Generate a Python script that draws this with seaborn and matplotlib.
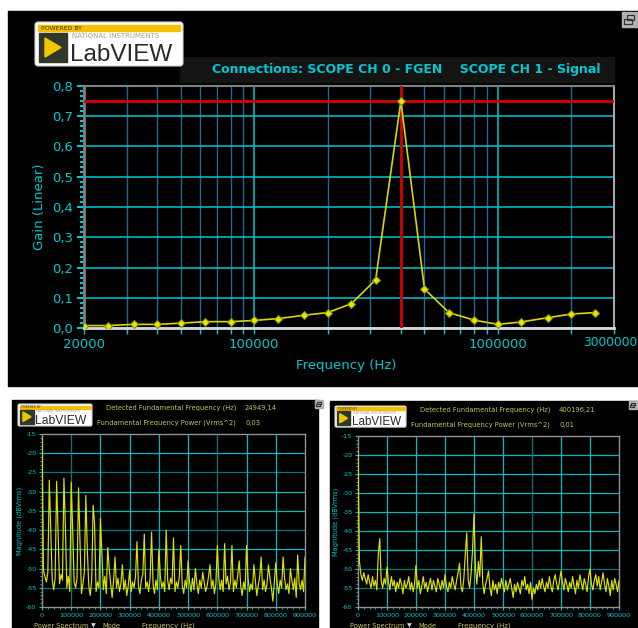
import matplotlib
matplotlib.use("Agg")
import matplotlib.pyplot as plt
import matplotlib.ticker as mticker
from matplotlib.patches import Rectangle, FancyBboxPatch, Polygon
from matplotlib import font_manager
import seaborn as sns

sns.set_style("dark")
plt.rcParams['font.family'] = ['DejaVu Sans']
plt.rcParams['axes.unicode_minus'] = False

# ---- gain sweep (top chart) ----
sweep_freq = [20000, 25000, 32000, 40000, 50000, 63000, 80000, 100000, 125000, 160000,
              200000, 250000, 315000, 400000, 500000, 630000, 800000, 1000000, 1250000,
              1600000, 2000000, 2500000]
sweep_gain = [0.008, 0.008, 0.012, 0.012, 0.016, 0.021, 0.021, 0.025, 0.031, 0.042,
              0.051, 0.080, 0.159, 0.750, 0.129, 0.051, 0.026, 0.012, 0.020, 0.034,
              0.046, 0.051]
cursor_freq = 400000
cursor_gain = 0.75
top_xticks = [20000, 100000, 1000000, 3000000]

# ---- power spectra (bottom charts) ----
spec_freq = list(range(0, 900001, 5000))
spec_left = [
    -15.5, -50.5, -52.0, -53.5, -51.0, -27.0, -40.0, -53.0, -55.5, -52.5,
    -27.3, -40.5, -54.0, -51.5, -53.0, -26.5, -39.0, -55.0, -52.0, -56.0,
    -27.5, -40.0, -53.5, -55.0, -52.5, -29.0, -43.0, -56.5, -54.0, -51.0,
    -31.0, -45.0, -54.5, -57.0, -53.0, -33.5, -38.5, -56.0, -53.5, -55.0,
    -37.0, -46.0, -55.5, -52.0, -56.5, -44.5, -50.0, -54.0, -57.5, -53.0,
    -47.0, -55.0, -52.5, -56.0, -54.0, -49.0, -55.5, -53.0, -57.0, -54.5,
    -50.5, -56.0, -53.5, -55.0, -52.0, -43.0, -54.5, -56.5, -53.0, -51.5,
    -41.0, -55.0, -53.5, -56.0, -52.5, -40.5, -54.0, -56.5, -53.0, -55.5,
    -45.0, -52.0, -55.0, -53.5, -56.0, -40.0, -53.0, -55.5, -52.5, -54.0,
    -42.0, -56.0, -53.5, -55.0, -52.0, -44.0, -54.5, -56.5, -53.0, -55.0,
    -48.0, -53.5, -56.0, -52.5, -55.5, -50.0, -54.0, -56.5, -53.0, -55.0,
    -51.0, -53.5, -56.0, -54.5, -52.0, -49.0, -55.0, -53.0, -56.5, -54.0,
    -44.0, -52.5, -55.5, -53.0, -56.0, -43.5, -54.0, -52.0, -55.5, -53.5,
    -44.0, -56.0, -53.0, -55.0, -51.5, -48.0, -54.5, -57.0, -53.5, -55.5,
    -44.0, -52.5, -56.0, -54.0, -55.5, -49.0, -53.0, -57.0, -54.5, -52.0,
    -47.0, -55.5, -53.0, -56.0, -54.0, -49.0, -52.5, -55.0, -58.5, -53.5,
    -48.5, -54.0, -56.5, -53.0, -55.0, -47.0, -52.5, -55.5, -54.0, -56.5,
    -50.0, -53.0, -55.5, -52.5, -57.5, -46.5, -54.0, -55.5, -53.0, -56.0,
    -47.0]
spec_right = [
    -19.0, -48.0, -51.5, -53.0, -51.0, -52.5, -54.0, -51.5, -53.5, -55.0,
    -52.0, -54.5, -53.0, -55.5, -46.0, -42.0, -53.0, -55.0, -52.5, -54.0,
    -49.5, -53.5, -55.5, -52.0, -54.5, -53.0, -56.0, -53.5, -55.0, -52.5,
    -54.0, -56.5, -53.0, -55.0, -54.0, -52.0, -55.5, -53.5, -56.0, -54.0,
    -49.0, -55.0, -53.0, -56.5, -54.5, -52.0, -55.0, -53.5, -56.0, -54.0,
    -52.5, -55.5, -53.0, -54.5, -56.0, -52.5, -54.0, -55.5, -53.0, -55.0,
    -51.5, -54.5, -56.0, -53.5, -55.0, -52.0, -54.0, -55.5, -53.0, -51.0,
    -48.5, -54.5, -56.0, -52.5, -46.0, -40.5, -53.0, -55.0, -51.0, -45.0,
    -35.5, -50.0, -54.0, -48.0, -52.0, -41.5, -53.5, -56.5, -54.0, -52.5,
    -50.5, -55.0, -57.0, -53.0, -55.5, -54.0, -56.5, -53.5, -55.0, -52.5,
    -54.5, -56.0, -53.0, -55.5, -54.0, -52.5, -55.0, -57.5, -54.0, -56.0,
    -53.5, -55.0, -56.5, -53.0, -54.5, -52.0, -55.5, -54.0, -56.5, -53.5,
    -58.0, -55.0, -56.5, -54.0, -55.5, -53.0, -55.0, -52.5, -54.5, -56.0,
    -53.5, -55.0, -52.0, -54.5, -56.0, -53.0, -51.5, -54.0, -55.5, -53.0,
    -50.5, -53.5, -55.5, -52.5, -54.0, -56.0, -53.5, -55.0, -52.0, -54.5,
    -56.5, -53.0, -55.0, -51.5, -53.5, -55.5, -52.5, -54.0, -56.0, -52.0,
    -50.0, -54.0, -55.5, -53.0, -51.5, -54.5, -52.0, -55.5, -53.5, -51.0,
    -54.0, -56.0, -52.5, -54.5, -57.0, -53.0, -55.5, -52.5, -54.0, -56.0,
    -53.0]
left_fund, left_power = "24949,14", "0,03"
right_fund, right_power = "400196,21", "0,01"

CYAN = '#00c8d0'
GRID_DARK = '#1d6a90'
KHAKI = '#c8c25a'
YELLOW = '#e0e000'

W, H = 638, 628
fig = plt.figure(figsize=(W / 100, H / 100), dpi=100, facecolor='white')

# full-figure overlay in pixel coords for panels, logos and free text
bg = fig.add_axes([0, 0, 1, 1])
bg.set_xlim(0, W)
bg.set_ylim(H, 0)
bg.axis('off')

bg.add_patch(Rectangle((8, 11), 630, 375, color='black'))
bg.add_patch(Rectangle((12, 400), 306, 228, color='black'))
bg.add_patch(Rectangle((330, 401), 308, 227, color='black'))
bg.add_patch(Rectangle((180, 57), 434, 25, color='#141414'))


def restore_icon(x, y, s):
    bg.add_patch(Rectangle((x, y), s, s, color='#b0b0b0'))
    bg.add_patch(Rectangle((x + s * 0.3, y + s * 0.2), s * 0.5, s * 0.35, fill=False, ec='#303030', lw=0.8))
    bg.add_patch(Rectangle((x + s * 0.15, y + s * 0.45), s * 0.5, s * 0.35, fill=False, ec='#303030', lw=0.8))


restore_icon(622, 12, 15)
restore_icon(315, 400, 8)
restore_icon(629, 401, 8)


def logo(x, y, s):
    w, h = 148 * s, 44 * s
    bg.add_patch(FancyBboxPatch((x, y), w, h, boxstyle=f"round,pad=0,rounding_size={3 * s}",
                                fc='white', ec='#d0d0d0', lw=0.8))
    bg.add_patch(Rectangle((x + 3 * s, y + 3 * s), w - 6 * s, 6 * s, color='#f5c000'))
    bg.text(x + 6 * s, y + 6 * s, "POWERED BY", fontsize=2.2 * s * 2, color='#403000', va='center')
    bg.add_patch(Rectangle((x + 4 * s, y + 11 * s), 28 * s, 29 * s, color='#303828'))
    bg.add_patch(Polygon([(x + 10 * s, y + 16 * s), (x + 10 * s, y + 35 * s), (x + 26 * s, y + 25.5 * s)],
                         closed=True, color='#f0c800'))
    bg.text(x + 37 * s, y + 14 * s, "NATIONAL INSTRUMENTS", fontsize=2.5 * s * 2, color='#a0a0a0', va='center')
    bg.text(x + 35 * s, y + 39 * s, "LabVIEW", fontsize=17.5 * s, color='#2a2a2a',
            family='Liberation Sans', va='baseline')


logo(35, 22, 1.0)
logo(18, 404, 0.5)
logo(335, 406, 0.48)

# ---------- top chart ----------
names = {f.name for f in font_manager.fontManager.ttflist}
if 'Liberation Sans Narrow' in names:
    title_family, title_size = 'Liberation Sans Narrow', 12
else:
    title_family, title_size = 'DejaVu Sans', 9
bg.text(406, 70, "Connections: SCOPE CH 0 - FGEN    SCOPE CH 1 - Signal", color=CYAN,
        fontsize=title_size, fontweight='bold', family=title_family, ha='center', va='center')

ax = fig.add_axes([84 / W, 1 - 328 / H, 530 / W, 242 / H])
ax.set_facecolor('black')
ax.set_xscale('log')
ax.axvline(cursor_freq, color='#d40000', lw=2, zorder=3)
ax.axhline(cursor_gain, color='#d40000', lw=2, zorder=3)
sns.lineplot(x=sweep_freq, y=sweep_gain, ax=ax, color='#d8d800', lw=1.2, marker='D',
             markersize=4, markeredgecolor='#8a8a00', markerfacecolor='#e6e600', zorder=4)
ax.set_xlim(20000, 3000000)
ax.set_ylim(0, 0.8)
ax.set_xticks(top_xticks)
# the last label (3000000) runs to the panel's right edge; it is drawn separately below
ax.xaxis.set_major_formatter(mticker.FuncFormatter(
    lambda v, p: "" if v >= top_xticks[-1] else f"{int(v)}"))
ax.xaxis.set_minor_locator(mticker.FixedLocator(
    [30000, 40000, 50000, 60000, 70000, 80000, 90000,
     200000, 300000, 400000, 500000, 600000, 700000, 800000, 900000, 2000000]))
ax.xaxis.set_minor_formatter(mticker.NullFormatter())
ax.yaxis.set_major_locator(mticker.MultipleLocator(0.1))
ax.yaxis.set_minor_locator(mticker.AutoMinorLocator(6))
ax.yaxis.set_major_formatter(mticker.FuncFormatter(lambda v, p: f"{v:.1f}".replace('.', ',')))
ax.grid(False)
ax.grid(which='major', color=CYAN, lw=1.1)
ax.grid(which='minor', axis='x', color=GRID_DARK, lw=1.0)
ax.set_axisbelow(True)
ax.tick_params(axis='both', which='both', direction='out', color=CYAN, labelcolor=CYAN,
               labelsize=9.5, left=True, bottom=True, pad=3)
ax.tick_params(axis='y', which='major', length=5, width=1.5)
ax.tick_params(axis='y', which='minor', length=3, width=1.5)
ax.tick_params(axis='x', which='both', length=4, width=1)
ax.set_xlabel("")
ax.set_ylabel("")
for side, c, lw in [('left', '#808080', 2), ('bottom', '#d8d8d8', 2), ('top', '#808080', 1.5), ('right', '#a8a8a8', 1.5)]:
    ax.spines[side].set_color(c)
    ax.spines[side].set_linewidth(lw)
bg.text(637, 343, f"{top_xticks[-1]}", color=CYAN, fontsize=8.8, ha='right', va='center')
bg.text(40, 207, "Gain (Linear)", color=CYAN, fontsize=9.5, rotation=90, ha='center', va='center')
bg.text(346, 366, "Frequency (Hz)", color=CYAN, fontsize=9.5, ha='center', va='center')


# ---------- bottom spectra ----------
def spectrum(x0, y0, x1, y1, vals, dark_h, dark_v, fund, power, text_right):
    a = fig.add_axes([x0 / W, 1 - y1 / H, (x1 - x0) / W, (y1 - y0) / H])
    a.set_facecolor('black')
    a.grid(False)
    for yv in range(-55, -15, 5):
        a.axhline(yv, color='#007878' if yv in dark_h else '#00b8c0', lw=0.9, zorder=1)
    for xv in range(100000, 900000, 100000):
        a.axvline(xv, color='#007878' if xv in dark_v else '#00b8c0', lw=0.9, zorder=1)
    sns.lineplot(x=spec_freq, y=vals, ax=a, color=YELLOW, lw=0.85, zorder=3)
    a.set_xlim(0, 900000)
    a.set_ylim(-60, -15)
    a.set_xticks(range(0, 900001, 100000))
    a.set_yticks(range(-60, -14, 5))
    a.xaxis.set_minor_locator(mticker.MultipleLocator(20000))
    a.yaxis.set_minor_locator(mticker.MultipleLocator(1))
    a.tick_params(axis='both', which='both', direction='out', color=CYAN, labelcolor=CYAN,
                  labelsize=4.6, left=True, bottom=True, pad=1.5)
    a.tick_params(which='major', length=2.5, width=0.8)
    a.tick_params(which='minor', length=1.2, width=0.6)
    a.set_xlabel("")
    a.set_ylabel("")
    for s in a.spines.values():
        s.set_color('#909090')
        s.set_linewidth(1)
    bg.text(x0 - 22, (y0 + y1) / 2, "Magnitude (dBVrms)", color=CYAN, fontsize=4.8,
            rotation=90, ha='center', va='center')
    bg.text(x0 + 126, 626, "Frequency (Hz)", color=KHAKI, fontsize=5, ha='center', va='center')
    bg.text(x0 - 8, 626, "Power Spectrum", color=KHAKI, fontsize=4.8, ha='left', va='center')
    bg.text(x0 + 51, 626, "\u25bc", color='#d0d0d0', fontsize=4.5, ha='center', va='center')
    bg.text(x0 + 60, 626, "Mode", color=KHAKI, fontsize=4.8, ha='left', va='center')
    bg.text(text_right, y0 - 26, "Detected Fundamental Frequency (Hz)", color=KHAKI,
            fontsize=4.9, ha='right', va='center')
    bg.text(text_right + 9, y0 - 26, fund, color=KHAKI, fontsize=4.9, ha='left', va='center')
    bg.text(text_right, y0 - 11, "Fundamental Frequency Power (Vrms^2)", color=KHAKI,
            fontsize=4.9, ha='right', va='center')
    bg.text(text_right + 9, y0 - 11, power, color=KHAKI, fontsize=4.9, ha='left', va='center')


spectrum(42, 434, 305, 607, spec_left, [-25, -40, -50, -55], [100000, 600000],
         left_fund, left_power, 236)
spectrum(358, 436, 619, 607, spec_right, [-50, -55], [600000],
         right_fund, right_power, 550)

fig.savefig("out.png", dpi=100, facecolor='white')
